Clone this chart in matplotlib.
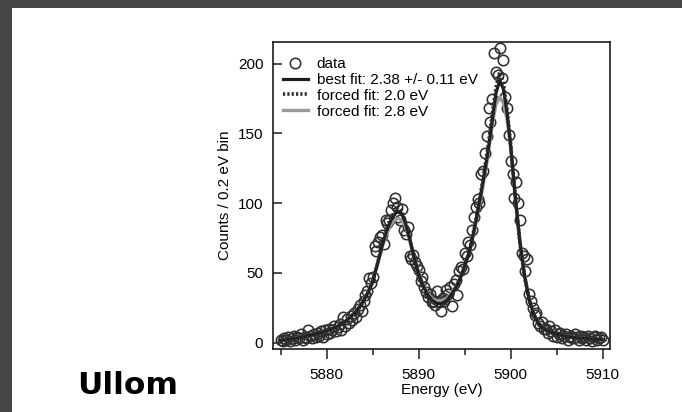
import numpy as np
import matplotlib
matplotlib.use('Agg')
from matplotlib import pyplot as plt
from matplotlib.lines import Line2D
from matplotlib.patches import Rectangle

# measured counts, 0.2 eV bins starting at 5875.0 eV
bin_start = 5875.0
bin_width = 0.2
counts = [
    2, 1, 3, 2, 4, 1, 3, 5, 2, 4,            # 5875.0 - 5876.8
    3, 6, 2, 4, 3, 9, 5, 3, 6, 4,            # 5877.0 - 5878.8
    7, 5, 8, 4, 9, 6, 10, 7, 9, 12,          # 5879.0 - 5880.8
    8, 11, 13, 9, 18, 12, 17, 14, 19, 16,    # 5881.0 - 5882.8
    21, 18, 24, 27, 23, 30, 34, 37, 46, 43,  # 5883.0 - 5884.8
    47, 69, 66, 72, 76, 77, 71, 88, 86, 88,  # 5885.0 - 5886.8
    95, 100, 104, 97, 90, 88, 96, 81, 78, 83,  # 5887.0 - 5888.8
    62, 60, 63, 58, 55, 52, 44, 47, 40, 36,  # 5889.0 - 5890.8
    33, 35, 29, 30, 27, 37, 29, 23, 32, 30,  # 5891.0 - 5892.8
    38, 35, 40, 26, 42, 45, 34, 51, 54, 53,  # 5893.0 - 5894.8
    64, 62, 72, 70, 81, 90, 97, 103, 100, 121,   # 5895.0 - 5896.8
    123, 136, 148, 168, 158, 175, 208, 194, 192, 211,  # 5897.0 - 5898.8
    190, 203, 176, 168, 149, 130, 121, 104, 115, 100,  # 5899.0 - 5900.8
    88, 64, 62, 51, 60, 35, 30, 25, 20, 21,  # 5901.0 - 5902.8
    14, 12, 15, 10, 10, 7, 12, 8, 5, 9,      # 5903.0 - 5904.8
    4, 6, 7, 3, 5, 6, 2, 4, 5, 3,            # 5905.0 - 5906.8
    6, 4, 2, 5, 3, 4, 2, 5, 3, 1,            # 5907.0 - 5908.8
    4, 5, 2, 3, 4, 2,                        # 5909.0 - 5910.0
]

# fitted line shapes
fit_energy = [5875, 5876, 5877, 5878, 5879, 5880, 5881, 5882, 5883, 5883.5,
              5884, 5884.5, 5885, 5885.5, 5886, 5886.5, 5887, 5887.5, 5887.8, 5888.1,
              5888.5, 5889, 5889.5, 5890, 5890.5, 5891, 5891.5, 5892, 5892.5, 5893,
              5893.5, 5894, 5894.5, 5895, 5895.5, 5896, 5896.5, 5897, 5897.5, 5898,
              5898.4, 5898.8, 5899.2, 5899.6, 5900, 5900.5, 5901, 5901.5, 5902, 5902.5,
              5903, 5903.5, 5904, 5904.5, 5905, 5906, 5907, 5908, 5909, 5910]
best_fit = [1.5, 2.5, 3.5, 5, 6.5, 8.5, 11, 15, 21, 25,
            30, 36, 44, 56, 69, 80, 88, 93, 94, 93,
            87, 75, 61, 49, 40.5, 34, 30, 28, 28, 30,
            34, 39, 46, 55, 65, 80, 97, 116, 136, 160,
            179, 188, 182, 165, 141, 104, 72, 48, 31, 20.5,
            14, 10.5, 8.5, 7, 6, 4.5, 3.5, 3, 2.5, 2]
forced_2_0 = [1.5, 2.5, 3.5, 5, 6.5, 8.5, 11, 15, 20.5, 24.5,
              29.5, 35.5, 43.5, 56, 70, 82, 90, 95, 97, 95,
              88, 75, 60, 48, 39.5, 33, 29, 26.5, 26.5, 28.5,
              33, 38.5, 46, 55, 66, 81, 98, 118, 139, 164,
              183, 194, 186, 167, 142, 104, 71, 47, 30, 20,
              13.5, 10.5, 8.5, 7, 6, 4.5, 3.5, 3, 2.5, 2]
forced_2_8 = [1.5, 2.5, 3.5, 5, 6.5, 8.5, 11, 15, 21.5, 25.5,
              30.5, 37, 45, 56, 68, 78, 85, 88.5, 89, 88,
              84, 74, 61, 50, 41.5, 35, 31.5, 30, 30, 31.5,
              35, 40, 46.5, 55, 65, 79, 95, 113, 133, 157,
              171, 176, 172, 160, 139, 104, 73, 49, 32, 21,
              14.5, 11, 8.5, 7, 6, 4.5, 3.5, 3, 2.5, 2]

x_ticks = [5880, 5890, 5900, 5910]
x_minor = [5875, 5885, 5895, 5905]
y_ticks = [0, 50, 100, 150, 200]

energy = bin_start + bin_width * np.arange(len(counts))

plt.rcParams['font.family'] = ['Liberation Sans', 'DejaVu Sans']
fig = plt.figure(figsize=(6.82, 4.12), dpi=100, facecolor='#454545')
fig.patches.append(Rectangle((12 / 682, 0), 1, 1 - 8 / 412, transform=fig.transFigure,
                             facecolor='white', edgecolor='none', zorder=-10))

ax = fig.add_axes([273 / 682, 63 / 412, 337 / 682, 307.3 / 412])
ax.set_facecolor('none')

ink = '#1c1c1c'
ax.plot(energy, counts, 'o', mfc='none', mec='#303030', ms=7.5, mew=1.15, zorder=2)
ax.plot(fit_energy, forced_2_8, color='#9a9a9a', lw=2.4, zorder=3)
ax.plot(fit_energy, best_fit, color=ink, lw=2.3, zorder=4)
ax.plot(fit_energy, forced_2_0, color='#2a2a2a', lw=2.6, ls=(0, (0.6, 0.6)), zorder=5)

ax.set_xlim(5874.16, 5910.79)
ax.set_ylim(-4.6, 215.8)
ax.set_xticks(x_ticks)
ax.set_xticks(x_minor, minor=True)
ax.set_yticks(y_ticks)
ax.tick_params(axis='x', which='major', direction='out', length=7.5, width=1.1,
               color=ink, labelsize=11, pad=6)
ax.tick_params(axis='x', which='minor', direction='out', length=4.5, width=1.1, color=ink)
ax.tick_params(axis='y', direction='in', length=6.5, width=1.1, color=ink,
               labelsize=11, pad=7)
for side in ax.spines.values():
    side.set_linewidth(1.2)
    side.set_color(ink)

ax.set_xlabel('Energy (eV)', fontsize=11, labelpad=1)
ax.set_ylabel('Counts / 0.2 eV bin', fontsize=11, labelpad=4)

handles = [
    Line2D([], [], ls='none', marker='o', mfc='none', mec='#303030', ms=7.5, mew=1.15),
    Line2D([], [], color=ink, lw=2.3),
    Line2D([], [], color='#2a2a2a', lw=2.6, ls=(0, (0.6, 0.6))),
    Line2D([], [], color='#9a9a9a', lw=2.4),
]
labels = ['data', 'best fit: 2.38 +/- 0.11 eV', 'forced fit: 2.0 eV', 'forced fit: 2.8 eV']
ax.legend(handles, labels, loc='upper left', bbox_to_anchor=(0.03, 0.95), frameon=False,
          fontsize=11, handlelength=1.6, handletextpad=0.6, labelspacing=0.12,
          borderpad=0, borderaxespad=0, numpoints=1)

fig.text(77 / 682, 1 - 394 / 412, 'Ullom', family='DejaVu Sans', fontweight='bold',
         fontsize=22.5, ha='left', va='baseline')

fig.savefig('out.png', dpi=100, facecolor=fig.get_facecolor())
